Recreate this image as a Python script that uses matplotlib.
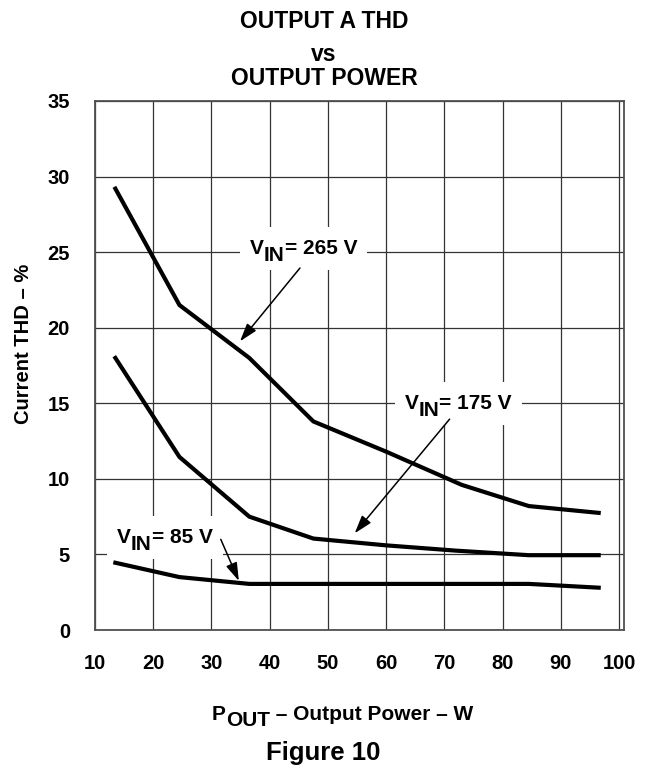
import matplotlib
matplotlib.use("Agg")
import matplotlib.pyplot as plt
from matplotlib.patches import Rectangle
from matplotlib.transforms import Bbox

plt.rcParams["font.family"] = ["Liberation Sans", "DejaVu Sans"]
plt.rcParams["font.weight"] = "bold"

# curve data
pout_265 = [13.5, 24.5, 36.5, 47.5, 60, 73, 84.5, 96.5]
thd_265 = [29.2, 21.5, 18.0, 13.8, 11.8, 9.6, 8.2, 7.75]
pout_175 = [13.5, 24.5, 36.5, 47.5, 60, 72, 84.5, 96.5]
thd_175 = [18.0, 11.45, 7.5, 6.05, 5.6, 5.25, 4.95, 4.95]
pout_85 = [13.5, 24.5, 36.5, 48, 60, 72, 84.5, 96.5]
thd_85 = [4.45, 3.5, 3.05, 3.05, 3.05, 3.05, 3.05, 2.8]

x_ticks = [10, 20, 30, 40, 50, 60, 70, 80, 90, 100]
y_ticks = [0, 5, 10, 15, 20, 25, 30, 35]

# label text (x, baseline y), arrow tail, arrow head (data units)
labels = [
    ("265 V", (36.6, 24.9), (45.2, 23.95), (34.9, 19.1)),
    ("175 V", (63.2, 14.6), (70.9, 13.95), (54.6, 6.4)),
    ("85 V", (13.8, 5.75), (31.6, 6.0), (34.7, 3.25)),
]

W, H = 658, 774
fig = plt.figure(figsize=(W / 100, H / 100), dpi=100)
ax = fig.add_axes([95 / W, 1 - 630 / H, (624 - 95) / W, (630 - 101) / H])

ax.plot(pout_265, thd_265, color="black", lw=3, solid_joinstyle="miter", zorder=3)
ax.plot(pout_175, thd_175, color="black", lw=3, solid_joinstyle="miter", zorder=3)
ax.plot(pout_85, thd_85, color="black", lw=3, solid_joinstyle="miter", zorder=3)

ax.set_xlim(10, 100.85)
ax.set_ylim(0, 35)
ax.set_xticks(x_ticks)
ax.set_yticks(y_ticks)
ax.set_axisbelow(True)
ax.grid(True, color="#333333", lw=0.9)
ax.tick_params(length=0, labelsize=14.5)
ax.tick_params(axis="x", pad=17)
ax.tick_params(axis="y", pad=18)
for lab in ax.get_xticklabels() + ax.get_yticklabels():
    lab.set_fontweight("bold")
for sp in ax.spines.values():
    sp.set_color("#505050")
    sp.set_linewidth(1.3)


def sub_label(x, y, main, sub, rest, size, coords, drop):
    t1 = ax.annotate(main, xy=(x, y), xycoords=coords, fontsize=size,
                     fontweight="bold", va="baseline", ha="left",
                     annotation_clip=False, zorder=4)
    t2 = ax.annotate(sub, xy=(1, 0), xycoords=t1, xytext=(0, -drop),
                     textcoords="offset points", fontsize=size,
                     fontweight="bold", va="bottom", ha="left",
                     annotation_clip=False, zorder=4)
    t3 = ax.annotate(rest, xy=(1, 0), xycoords=(t2, t1), fontsize=size,
                     fontweight="bold", va="bottom", ha="left",
                     annotation_clip=False, zorder=4)
    return [t1, t2, t3]


boxes = []
for value, pos, tail, head in labels:
    boxes.append(sub_label(pos[0], pos[1], "V", "IN", "= " + value, 15, "data", 5))
    ax.annotate("", xy=head, xytext=tail,
                arrowprops=dict(arrowstyle="-|>,head_length=1.1,head_width=0.35",
                                color="black", lw=1.1, shrinkA=0, shrinkB=0),
                zorder=4)

# titles and axis labels (figure pixels, origin bottom-left)
for txt, base in [("OUTPUT A THD", 28), ("vs", 61), ("OUTPUT POWER", 85)]:
    fig.text(324 / W, 1 - base / H, txt, ha="center", va="baseline",
             fontsize=16.5, fontweight="bold")
fig.text(323 / W, 1 - 760 / H, "Figure 10", ha="center", va="baseline",
         fontsize=18.5, fontweight="bold")
fig.text(24 / W, 1 - 344 / H, "Current THD \u2013 %", rotation=90,
         ha="center", va="center", fontsize=14.5, fontweight="bold")
sub_label(212, H - 720, "P", "OUT", " \u2013 Output Power \u2013 W", 15,
          "figure pixels", 4)

# white boxes behind the curve labels
fig.canvas.draw()
rend = fig.canvas.get_renderer()
inv = ax.transData.inverted()
for group in boxes:
    bb = Bbox.union([t.get_window_extent(rend) for t in group])
    (x0, y0), (x1, y1) = inv.transform([(bb.x0 - 10, bb.y0 - 5),
                                        (bb.x1 + 10, bb.y1 + 12)])
    ax.add_patch(Rectangle((x0, y0), x1 - x0, y1 - y0, facecolor="white",
                           edgecolor="none", zorder=2))

fig.savefig("out.png", dpi=100)
